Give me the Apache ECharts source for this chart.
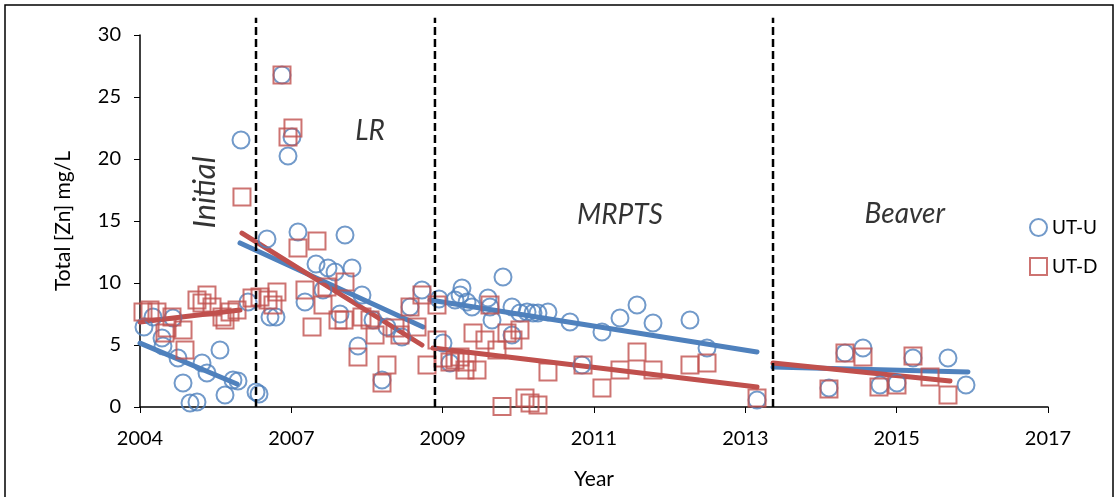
<!DOCTYPE html>
<html>
<head>
<meta charset="utf-8">
<script src="https://cdn.jsdelivr.net/npm/echarts@6/dist/echarts.min.js"></script>
<style>
  html, body { margin: 0; padding: 0; background: #fff; }
  #chart { width: 1118px; height: 497px; }
</style>
</head>
<body>
<div id="chart"></div>
<script>
// x values are years elapsed from the start of the axis (label "2004");
// the axis has six equal steps labelled with the years below.
const tickLabels = ['2004', '2007', '2009', '2011', '2013', '2015', '2017'];
const xSpan = 13;
const xStep = xSpan / 6;

// Total Zn, upstream site
const utU = [
  [0.057, 6.45], [0.186, 7.26], [0.472, 7.18], [0.315, 5.56], [0.329, 4.92], [0.544, 3.95],
  [0.888, 3.55], [1.145, 4.60], [0.959, 2.74], [0.616, 1.94], [0.716, 0.32], [0.816, 0.40],
  [1.217, 0.97], [1.331, 2.18], [1.403, 2.10], [1.661, 1.21], [1.704, 1.05], [1.546, 8.47],
  [1.446, 21.53],
  [1.818, 13.55], [1.861, 7.26], [1.947, 7.26], [2.033, 26.77], [2.176, 21.77], [2.119, 20.24],
  [2.262, 14.11], [2.935, 13.87], [2.520, 11.53], [2.692, 11.21], [2.792, 10.89], [3.035, 11.21],
  [2.362, 8.47], [3.178, 9.03], [2.863, 7.50], [3.336, 7.02], [3.536, 6.45], [3.121, 4.92],
  [3.465, 2.18], [3.751, 5.65], [4.037, 9.44], [3.866, 8.06], [2.620, 9.44],
  [5.197, 10.48], [4.610, 9.60], [4.281, 8.71], [4.510, 8.63], [4.682, 8.47], [5.011, 8.06],
  [4.582, 9.03], [4.753, 8.06], [4.982, 8.79], [5.040, 7.02], [5.326, 8.06], [5.440, 7.58],
  [5.541, 7.66], [5.627, 7.58], [5.698, 7.58], [5.841, 7.66], [6.156, 6.85], [5.326, 5.81],
  [4.338, 5.16], [4.438, 3.55], [6.328, 3.39], [6.614, 6.05], [6.872, 7.18], [7.116, 8.23],
  [7.345, 6.77], [7.874, 7.02], [8.118, 4.76], [8.834, 0.56],
  [9.864, 1.53], [10.093, 4.35], [10.351, 4.76], [10.594, 1.77], [10.838, 1.94], [11.067, 3.95],
  [11.568, 3.95], [11.826, 1.77]
];

// Total Zn, downstream site
const utD = [
  [0.043, 7.66], [0.143, 7.82], [0.243, 7.66], [0.458, 7.26], [0.387, 6.37], [0.358, 5.97],
  [0.616, 6.21], [0.644, 4.60], [0.816, 8.63], [0.959, 9.03], [0.888, 8.39], [1.031, 8.06],
  [1.174, 7.26], [1.217, 7.02], [1.289, 7.66], [1.389, 7.82], [1.460, 16.94], [1.604, 8.79],
  [1.718, 8.87], [1.833, 8.63], [1.904, 8.23], [1.961, 9.27],
  [2.033, 26.77], [2.190, 22.50], [2.119, 21.77], [2.262, 12.82], [2.534, 13.39], [2.362, 9.44],
  [2.677, 9.68], [2.935, 10.08], [2.620, 8.23], [2.463, 6.45], [2.835, 7.02], [2.921, 7.02],
  [3.178, 7.26], [3.293, 7.02], [3.365, 5.81], [3.651, 6.37], [3.722, 5.81], [3.866, 8.06],
  [4.037, 9.03], [3.966, 6.45], [3.121, 4.03], [3.536, 3.39], [3.465, 1.94], [4.109, 3.39],
  [4.252, 8.23], [4.252, 5.40], [4.768, 5.97], [4.939, 5.40], [5.254, 5.97], [5.340, 5.40],
  [5.440, 6.21], [5.011, 8.23], [4.338, 3.95], [4.438, 3.63], [4.510, 3.79], [4.582, 4.03],
  [4.682, 3.63], [4.653, 2.98], [4.825, 2.98], [5.111, 4.60], [5.841, 2.82], [5.183, 0.05],
  [5.512, 0.73], [5.584, 0.32], [5.698, 0.16], [6.343, 3.39], [6.614, 1.53], [6.872, 2.98],
  [7.116, 4.44], [7.345, 2.98], [7.874, 3.39], [8.118, 3.55], [8.834, 0.73],
  [9.864, 1.45], [10.093, 4.35], [10.351, 4.03], [10.580, 1.61], [10.838, 1.77], [11.067, 4.11],
  [11.311, 2.42], [11.568, 0.97]
];

// Trend lines for each treatment period: [start, end]
const trendU = [
  [[0.0, 5.15], [1.389, 1.85]],
  [[1.432, 13.23], [4.052, 6.45]],
  [[4.152, 8.63], [8.834, 4.44]],
  [[9.063, 3.23], [11.854, 2.82]]
];
const trendD = [
  [[0.0, 6.85], [1.432, 7.82]],
  [[1.460, 14.03], [4.037, 5.00]],
  [[4.195, 4.76], [8.834, 1.61]],
  [[9.063, 3.55], [11.597, 2.10]]
];

// Boundaries between treatment periods
const periodBreaks = [1.661, 4.223, 9.063];
const breakTop = 31.4;

// Period names and where they sit
const periodNames = ['Initial', 'LR', 'MRPTS', 'Beaver'];
const periodLabelPos = [[0.931, 17.3], [3.293, 22.3], [6.872, 15.5], [10.95, 15.6]];

const BLUE = '#4F81BD';
const RED = '#C0504D';
const FONT = 'Lato, "Open Sans", sans-serif';

const chart = echarts.init(document.getElementById('chart'), null, { renderer: 'canvas' });

const series = [];

trendU.forEach(seg => series.push({
  type: 'line', data: seg, symbol: 'none', silent: true, z: 3,
  lineStyle: { color: BLUE, width: 5, cap: 'round' }
}));
trendD.forEach(seg => series.push({
  type: 'line', data: seg, symbol: 'none', silent: true, z: 3,
  lineStyle: { color: RED, width: 5, cap: 'round' }
}));

series.push({
  name: 'UT-U', type: 'scatter', data: utU, symbol: 'circle', symbolSize: 17, z: 4,
  itemStyle: { color: 'rgba(255,255,255,0)', borderColor: BLUE, borderWidth: 2 }
});
series.push({
  name: 'UT-D', type: 'scatter', data: utD, symbol: 'rect', symbolSize: 17, z: 5,
  itemStyle: { color: 'rgba(255,255,255,0)', borderColor: RED, borderWidth: 2 }
});

periodBreaks.forEach(x => series.push({
  type: 'line', data: [[x, 0], [x, breakTop]], symbol: 'none', silent: true, clip: false, z: 6,
  lineStyle: { color: '#000', width: 2.5, type: [8, 4] }
}));

series.push({
  type: 'scatter', silent: true, symbolSize: 0, z: 7,
  data: periodNames.map((n, i) => ({
    value: periodLabelPos[i], name: n,
    label: i === 0 ? { rotate: 90, fontSize: 31 } : { rotate: 0 }
  })),
  label: {
    show: true, position: 'inside', formatter: p => p.name,
    color: '#000', fontSize: 28, fontStyle: 'italic', fontFamily: FONT
  }
});

chart.setOption({
  animation: false,
  backgroundColor: '#fff',
  grid: { left: 140, right: 70, top: 35, bottom: 90, containLabel: false },
  legend: {
    data: [{ name: 'UT-U', icon: 'circle' }, { name: 'UT-D', icon: 'rect' }],
    orient: 'vertical', left: 1029, top: 218, padding: 0,
    itemWidth: 17, itemHeight: 17, itemGap: 20,
    textStyle: { fontSize: 19, color: '#000', fontFamily: FONT }
  },
  xAxis: {
    type: 'value', min: 0, max: xSpan, interval: xStep,
    name: 'Year', nameLocation: 'middle', nameGap: 62,
    nameTextStyle: { fontSize: 21, color: '#000', fontFamily: FONT },
    axisLine: { show: true, lineStyle: { color: '#000', width: 1.5 } },
    axisTick: { show: true, length: 6, inside: false, lineStyle: { color: '#000' } },
    axisLabel: {
      fontSize: 20, color: '#000', fontFamily: FONT, margin: 22,
      formatter: v => tickLabels[Math.round(v / xStep)] || ''
    },
    splitLine: { show: false }
  },
  yAxis: {
    type: 'value', min: 0, max: 30, interval: 5,
    name: 'Total [Zn] mg/L', nameLocation: 'middle', nameGap: 66,
    nameTextStyle: { fontSize: 21, color: '#000', fontFamily: FONT },
    axisLine: { show: true, lineStyle: { color: '#000', width: 1.5 } },
    axisTick: { show: true, length: 6, inside: false, lineStyle: { color: '#000' } },
    axisLabel: { fontSize: 20, color: '#000', fontFamily: FONT, margin: 19 },
    splitLine: { show: false }
  },
  graphic: [{
    type: 'rect', silent: true, z: -1,
    shape: { x: 5, y: 5, width: 1108, height: 500 },
    style: { fill: 'none', stroke: '#000', lineWidth: 1.5 }
  }],
  series
});
</script>
</body>
</html>
